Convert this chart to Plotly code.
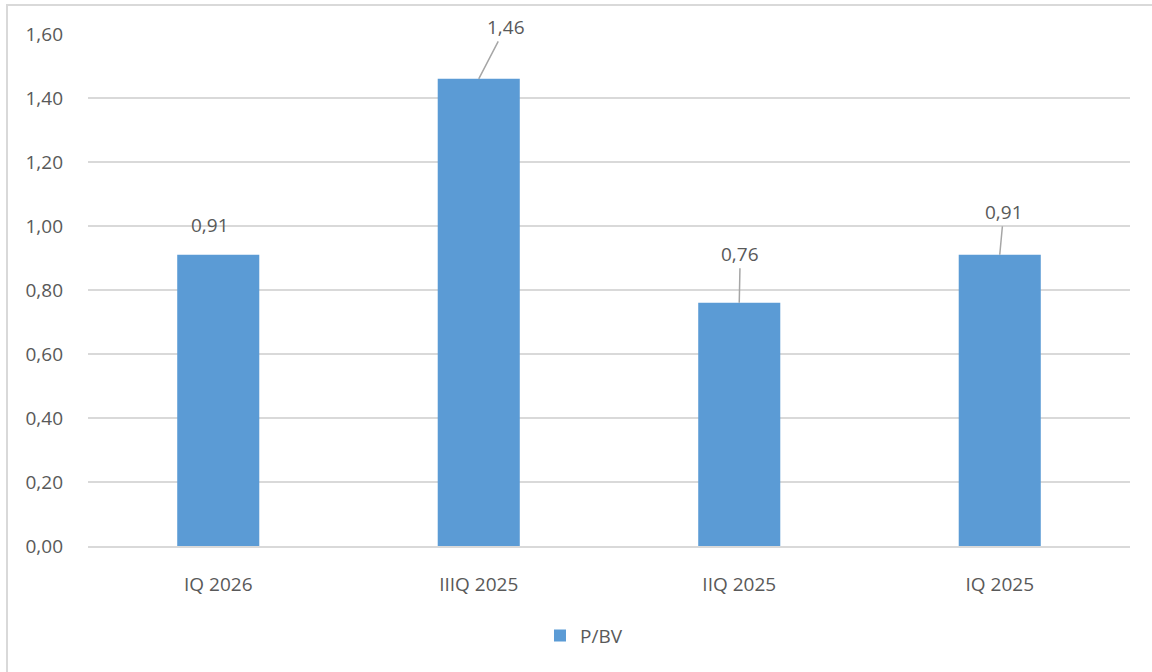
import plotly.graph_objects as go

categories = ["IQ 2026", "IIIQ 2025", "IIQ 2025", "IQ 2025"]
values = [0.91, 1.46, 0.76, 0.91]
series_name = "P/BV"
y_ticks = [0.0, 0.2, 0.4, 0.6, 0.8, 1.0, 1.2, 1.4, 1.6]

# label offsets (px) for leader lines: (ax, ay, leader)
label_offsets = [(-8, -30, False), (27, -52, True), (1, -49, True), (4, -43, True)]

FONT = "Open Sans"
TXT = "#595959"
GRID = "#d9d9d9"
FS = 19

fig = go.Figure()
fig.add_trace(go.Bar(x=categories, y=values, name=series_name,
                     marker=dict(color="#5b9bd5", line=dict(width=0)),
                     width=0.315, showlegend=True))

def fmt(v):
    return f"{v:.2f}".replace(".", ",")

for cat, v, (ax, ay, leader) in zip(categories, values, label_offsets):
    if leader:
        fig.add_annotation(x=cat, y=v, text=fmt(v), showarrow=True, arrowhead=0,
                           arrowwidth=1.5, arrowcolor="#a6a6a6", ax=ax, ay=ay,
                           font=dict(family=FONT, size=FS, color=TXT), standoff=0)
    else:
        fig.add_annotation(x=cat, y=v, text=fmt(v), showarrow=False,
                           xshift=ax, yshift=-ay,
                           font=dict(family=FONT, size=FS, color=TXT))

# chart border (top and left visible)
fig.add_shape(type="rect", xref="paper", yref="paper",
              x0=(7 - 88) / 1042, x1=1.2, y0=-0.5, y1=1 + 29 / 512,
              line=dict(color=GRID, width=2), fillcolor="rgba(0,0,0,0)", layer="below")

fig.update_layout(
    width=1152, height=672,
    margin=dict(l=88, r=22, t=34, b=126),
    paper_bgcolor="white", plot_bgcolor="white",
    separators=", ",
    font=dict(family=FONT, size=FS, color=TXT),
    bargap=0.685,
    xaxis=dict(showgrid=False, showline=True, linecolor=GRID, linewidth=1.5,
               ticks="", ticklabelstandoff=20, tickfont=dict(size=FS, color=TXT)),
    yaxis=dict(range=[0, 1.6], tickvals=y_ticks, tickformat=".2f",
               showgrid=True, gridcolor=GRID, gridwidth=1.5, zeroline=False,
               showline=False, ticks="", ticklabelstandoff=24,
               tickfont=dict(size=FS, color=TXT)),
    legend=dict(orientation="h", x=0.476, xanchor="center", y=-0.175, yanchor="middle",
                font=dict(size=FS, color=TXT)),
)

fig.write_html("out.html", config={"displayModeBar": False},
               post_script="document.body.style.margin='0';document.body.style.overflow='hidden';")
